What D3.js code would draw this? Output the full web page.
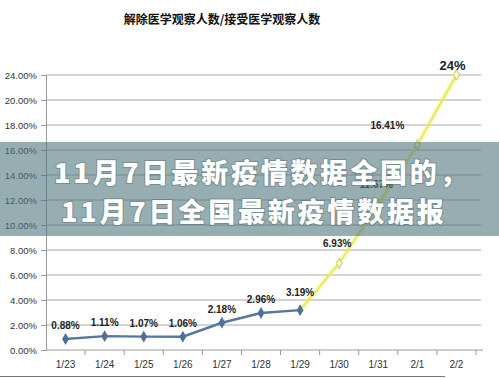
<!DOCTYPE html>
<html lang="zh">
<head>
<meta charset="UTF-8">
<title>解除医学观察人数/接受医学观察人数</title>
<script src="https://d3js.org/d3.v7.min.js"></script>
<style>
  body { margin: 0; background: #fff; }
  svg { display: block; }
</style>
</head>
<body>
<div id="chart"></div>
<script>
// data
const categories = ["1/23", "1/24", "1/25", "1/26", "1/27", "1/28", "1/29", "1/30", "1/31", "2/1", "2/2"];
const blueDates = ["1/23", "1/24", "1/25", "1/26", "1/27", "1/28", "1/29"];
const blueValues = [0.88, 1.11, 1.07, 1.06, 2.18, 2.96, 3.19];
const yellowDates = ["1/29", "1/30", "1/31", "2/1", "2/2"];
const yellowValues = [3.19, 6.93, 11.67, 16.41, 24];
const yTicks = [0, 2, 4, 6, 8, 10, 12, 14, 16, 18, 20, 24];
const titleText = "解除医学观察人数/接受医学观察人数";
const overlayLines = ["11月7日最新疫情数据全国的，", "11月7日全国最新疫情数据报"];

const width = 499, height = 378;
const svg = d3.select("#chart").append("svg")
    .attr("width", width)
    .attr("height", height);

const x = d3.scaleBand().domain(categories).range([46, 476]);
// the original axis squeezes 20%..24% into a single gridline step
const y = d3.scaleLinear().domain([0, 20, 24]).range([350, 100, 75]);
const cx = d => x(d) + x.bandwidth() / 2;
const fmt = v => Number.isInteger(v) ? v + "%" : v.toFixed(2) + "%";

// title
svg.append("text")
    .attr("x", 222).attr("y", 24)
    .attr("text-anchor", "middle")
    .style("font-family", "'Noto Sans CJK SC', sans-serif")
    .style("font-weight", "bold")
    .style("font-size", "12px")
    .attr("fill", "#111")
    .text(titleText);

// gridlines
svg.append("g")
    .selectAll("line")
    .data(yTicks.filter(d => d > 0))
    .enter().append("line")
    .attr("x1", 46).attr("x2", 481)
    .attr("y1", d => y(d)).attr("y2", d => y(d))
    .attr("stroke", "#a8a8a8")
    .attr("stroke-width", 1);

// y axis
const yAxis = svg.append("g")
    .attr("transform", "translate(46,0)")
    .call(d3.axisLeft(y).tickValues(yTicks).tickFormat(d => d.toFixed(2) + "%").tickSize(5).tickPadding(4));
yAxis.select(".domain").attr("stroke", "#999");
yAxis.selectAll(".tick line").attr("stroke", "#999");
yAxis.selectAll("text")
    .style("font-family", "'Liberation Sans', Arial, sans-serif")
    .style("font-size", "9.5px")
    .attr("fill", "#333");

// x axis
const xAxis = svg.append("g")
    .attr("transform", "translate(0,350)")
    .call(d3.axisBottom(x).tickSize(0).tickPadding(11));
xAxis.select(".domain").attr("stroke", "#999").attr("d", "M46,0H483");
xAxis.selectAll("text")
    .style("font-family", "'Liberation Sans', Arial, sans-serif")
    .style("font-size", "10px")
    .attr("fill", "#333");
svg.append("g")
    .selectAll("line")
    .data(categories)
    .enter().append("line")
    .attr("x1", d => x(d) + x.bandwidth()).attr("x2", d => x(d) + x.bandwidth())
    .attr("y1", 350).attr("y2", 355)
    .attr("stroke", "#999");

// yellow series
const yellowPts = yellowDates.map((d, i) => [cx(d), y(yellowValues[i])]);
svg.append("path")
    .attr("d", d3.line()(yellowPts))
    .attr("fill", "none")
    .attr("stroke", "rgba(240,240,120,0.45)")
    .attr("stroke-width", 5);
svg.append("path")
    .attr("d", d3.line()(yellowPts))
    .attr("fill", "none")
    .attr("stroke", "#e8e84a")
    .attr("stroke-width", 1.6);
svg.append("g")
    .selectAll("path")
    .data(yellowPts.slice(1))
    .enter().append("path")
    .attr("d", d3.symbol(d3.symbolDiamond, 30))
    .attr("transform", d => `translate(${d[0]},${d[1]})`)
    .attr("fill", "#fffde0")
    .attr("stroke", "#c9c24a")
    .attr("stroke-width", 1);

// blue series
const bluePts = blueDates.map((d, i) => [cx(d), y(blueValues[i])]);
svg.append("path")
    .attr("d", d3.line()(bluePts))
    .attr("fill", "none")
    .attr("stroke", "#5577a0")
    .attr("stroke-width", 2.4);
svg.append("g")
    .selectAll("path")
    .data(bluePts)
    .enter().append("path")
    .attr("d", d3.symbol(d3.symbolDiamond, 40))
    .attr("transform", d => `translate(${d[0]},${d[1]})`)
    .attr("fill", "#4d6f98");

// data labels
const labelFont = "'Liberation Sans', Arial, sans-serif";
svg.append("g")
    .selectAll("text")
    .data(blueDates.map((d, i) => ({ d, v: blueValues[i] })))
    .enter().append("text")
    .attr("x", p => cx(p.d))
    .attr("y", p => y(p.v) - (p.d === "1/29" ? 14 : 10))
    .attr("text-anchor", "middle")
    .style("font-family", labelFont)
    .style("font-size", "10px")
    .style("font-weight", "bold")
    .attr("fill", "#222")
    .text(p => fmt(p.v));

const shiftX = { "2/1": -30, "2/2": -4 };
svg.append("g")
    .selectAll("text")
    .data(yellowDates.slice(1).map((d, i) => ({ d, v: yellowValues[i + 1] })))
    .enter().append("text")
    .attr("x", p => cx(p.d) + (shiftX[p.d] || -2))
    .attr("y", p => y(p.v) - (p.v === 24 ? 5 : 16))
    .attr("text-anchor", "middle")
    .style("font-family", labelFont)
    .style("font-size", p => p.v === 24 ? "13px" : "10px")
    .style("font-weight", "bold")
    .attr("fill", "#222")
    .text(p => fmt(p.v));

// bottom border line
svg.append("line")
    .attr("x1", 0).attr("x2", 445)
    .attr("y1", 376.5).attr("y2", 376.5)
    .attr("stroke", "#777");

// caption band over the chart
svg.append("rect")
    .attr("x", 0).attr("y", 142)
    .attr("width", width).attr("height", 94)
    .attr("fill", "rgba(80,120,125,0.6)");
svg.append("g")
    .selectAll("text")
    .data(overlayLines)
    .enter().append("text")
    .attr("x", (d, i) => i === 0 ? 54 : 61)
    .attr("y", (d, i) => 183 + i * 39)
    .style("font-family", "'Noto Sans CJK SC', sans-serif")
    .style("font-weight", "900")
    .style("font-size", "27px")
    .style("letter-spacing", "2.8px")
    .attr("fill", "#fff")
    .style("paint-order", "stroke")
    .attr("stroke", "rgba(60,80,85,0.35)")
    .attr("stroke-width", 2)
    .text(d => d);
</script>
</body>
</html>
